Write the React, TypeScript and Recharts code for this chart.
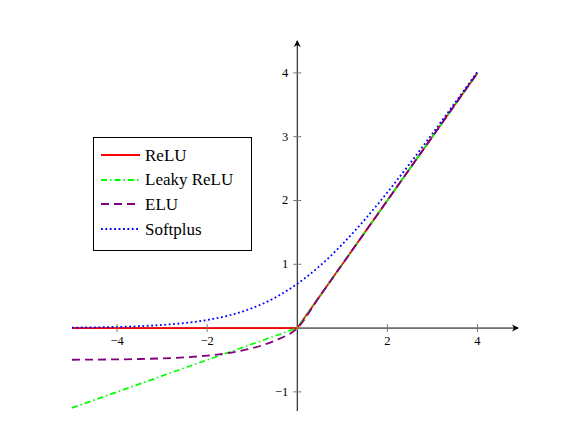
import { LineChart, Line, XAxis, YAxis, ReferenceLine, ReferenceDot } from 'recharts';

// sample points along x
const xs = [-5, -4.5, -4, -3.5, -3, -2.5, -2, -1.5, -1, -0.5, 0, 0.5, 1, 1.5, 2, 2.5, 3, 3.5, 4];

const relu = [0, 0, 0, 0, 0, 0, 0, 0, 0, 0, 0, 0.5, 1, 1.5, 2, 2.5, 3, 3.5, 4];
const leakyRelu = [-1.25, -1.125, -1, -0.875, -0.75, -0.625, -0.5, -0.375, -0.25, -0.125, 0, 0.5, 1, 1.5, 2, 2.5, 3, 3.5, 4];
const elu = [-0.497, -0.494, -0.491, -0.485, -0.475, -0.459, -0.432, -0.388, -0.316, -0.197, 0, 0.5, 1, 1.5, 2, 2.5, 3, 3.5, 4];
const softplus = [0.007, 0.011, 0.018, 0.03, 0.049, 0.079, 0.127, 0.201, 0.313, 0.474, 0.693, 0.974, 1.313, 1.701, 2.127, 2.579, 3.049, 3.53, 4.018];

const xTicks = [-4, -2, 2, 4];
const yTicks = [-1, 1, 2, 3, 4];

const series = [
  { key: 'relu', name: 'ReLU', color: '#ff0000', dash: undefined, type: 'linear' },
  { key: 'leaky', name: 'Leaky ReLU', color: '#00ff00', dash: '6 3 1.5 3', type: 'linear' },
  { key: 'elu', name: 'ELU', color: '#800080', dash: '8 5', type: 'monotone' },
  { key: 'softplus', name: 'Softplus', color: '#0000ff', dash: '1.8 2.6', type: 'monotone' },
] as const;

const data = xs.map((x, i) => ({
  x,
  relu: relu[i],
  leaky: leakyRelu[i],
  elu: elu[i],
  softplus: softplus[i],
}));

const font = '"Liberation Serif", "DejaVu Serif", serif';

const XTickMark = ({ cx, cy, value }: any) => (
  <g>
    <line x1={cx} y1={cy - 4} x2={cx} y2={cy + 4} stroke="#777" strokeWidth={1} />
    <text x={cx} y={cy + 17} textAnchor="middle" fontSize={12.5} fontFamily={font} fill="#000">
      {value < 0 ? `\u2212${-value}` : value}
    </text>
  </g>
);

const YTickMark = ({ cx, cy, value }: any) => (
  <g>
    <line x1={cx - 4} y1={cy} x2={cx + 4} y2={cy} stroke="#777" strokeWidth={1} />
    <text x={cx - 9} y={cy + 4} textAnchor="end" fontSize={12.5} fontFamily={font} fill="#000">
      {value < 0 ? `\u2212${-value}` : value}
    </text>
  </g>
);

const ArrowRight = ({ cx, cy }: any) => (
  <path d={`M${cx + 1},${cy} L${cx - 6},${cy - 3.5} L${cx - 4},${cy} L${cx - 6},${cy + 3.5} Z`} fill="#000" />
);

const ArrowUp = ({ cx, cy }: any) => (
  <path d={`M${cx},${cy - 1} L${cx - 3.5},${cy + 6} L${cx},${cy + 4} L${cx + 3.5},${cy + 6} Z`} fill="#000" />
);

export default function App() {
  return (
    <div style={{ position: 'absolute', left: 0, top: 0, width: 570, height: 424, background: '#fff' }}>
      <LineChart width={570} height={424} data={data} margin={{ top: 41, right: 52, bottom: 13, left: 72 }}>
        <XAxis type="number" dataKey="x" domain={[-5, 4.9]} hide />
        <YAxis type="number" domain={[-1.3, 4.5]} hide />
        <ReferenceLine y={0} stroke="#000" strokeWidth={1} />
        <ReferenceLine x={0} stroke="#000" strokeWidth={1} />
        {xTicks.map((t) => (
          <ReferenceDot key={`x${t}`} x={t} y={0} ifOverflow="visible" shape={(p: any) => <XTickMark {...p} value={t} />} />
        ))}
        {yTicks.map((t) => (
          <ReferenceDot key={`y${t}`} x={0} y={t} ifOverflow="visible" shape={(p: any) => <YTickMark {...p} value={t} />} />
        ))}
        <ReferenceDot x={4.9} y={0} ifOverflow="visible" shape={(p: any) => <ArrowRight {...p} />} />
        <ReferenceDot x={0} y={4.5} ifOverflow="visible" shape={(p: any) => <ArrowUp {...p} />} />
        {series.map((s) => (
          <Line
            key={s.key}
            dataKey={s.key}
            type={s.type}
            stroke={s.color}
            strokeWidth={1.8}
            strokeDasharray={s.dash}
            dot={false}
            activeDot={false}
            isAnimationActive={false}
          />
        ))}
      </LineChart>
      <div
        style={{
          position: 'absolute',
          left: 93,
          top: 137,
          width: 157,
          height: 107,
          border: '1px solid #000',
          padding: '5px 0 0 0',
          boxSizing: 'content-box',
          fontFamily: font,
          fontSize: 17,
          background: '#fff',
        }}
      >
        {series.map((s) => (
          <div key={s.key} style={{ display: 'flex', alignItems: 'center', height: 24.6 }}>
            <svg width={44} height={10} style={{ marginLeft: 7, flexShrink: 0 }}>
              <line x1={0} y1={5} x2={39} y2={5} stroke={s.color} strokeWidth={1.8} strokeDasharray={s.dash} />
            </svg>
            <span style={{ lineHeight: 1 }}>{s.name}</span>
          </div>
        ))}
      </div>
    </div>
  );
}
